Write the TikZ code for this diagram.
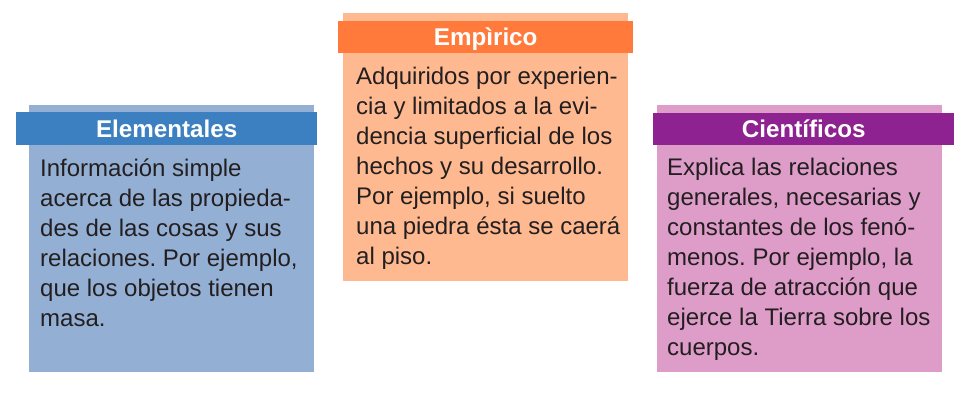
\documentclass[tikz,border=0pt]{standalone}
\usepackage{fontspec}
\setmainfont{Liberation Sans}
\usepackage{xcolor}
\definecolor{elemBg}{HTML}{93AFD4}
\definecolor{elemHd}{HTML}{3C80C2}
\definecolor{empiBg}{HTML}{FFB990}
\definecolor{empiHd}{HTML}{FF7A3B}
\definecolor{cienBg}{HTML}{DE9CC9}
\definecolor{cienHd}{HTML}{8D2290}
\definecolor{bodyText}{HTML}{231F20}
\frenchspacing
\begin{document}
\begin{tikzpicture}[x=1pt,y=-1pt,
    panel/.style={anchor=north west,inner sep=0pt,minimum width=285pt,minimum height=267pt},
    header/.style={anchor=north west,inner sep=0pt,minimum width=301pt,minimum height=33pt,
        text=white,font=\fontsize{24.2}{28}\selectfont\bfseries,text height=17pt,text depth=0pt},
    body/.style={anchor=north west,inner sep=0pt,align=left,text=bodyText,
        font=\fontsize{24}{30}\selectfont}]
        
        \useasboundingbox (0,0) rectangle (977,410);
        
        % Elementales
        \node[panel, fill=elemBg] (elemPanel) at (29,105) {};
        \node[header, fill=elemHd] (elemHead) at (16,112) {Elementales};
        \node[body] (elemText) at (40,158.5) {Información simple\\acerca de las propieda-\\des de las cosas y sus\\relaciones. Por ejemplo,\\que los objetos tienen\\masa.};
        
        % Empirico
        \node[panel, fill=empiBg, minimum height=268pt] (empiPanel) at (343,13) {};
        \node[header, fill=empiHd, minimum width=295pt, minimum height=32pt] (empiHead) at (338,21) {Empìrico};
        \node[body] (empiText) at (356,66.5) {Adquiridos por experien-\\cia y limitados a la evi-\\dencia superficial de los\\hechos y su desarrollo.\\Por ejemplo, si suelto\\una piedra ésta se caerá\\al piso.};
        
        % Cientificos
        \node[panel, fill=cienBg] (cienPanel) at (657,105) {};
        \node[header, fill=cienHd, minimum width=301pt, minimum height=32pt] (cienHead) at (653,113) {Científicos};
        \node[body] (cienText) at (667,157.5) {Explica las relaciones\\generales, necesarias y\\constantes de los fenó-\\menos. Por ejemplo, la\\fuerza de atracción que\\ejerce la Tierra sobre los\\cuerpos.};
        
\end{tikzpicture}
\end{document}
